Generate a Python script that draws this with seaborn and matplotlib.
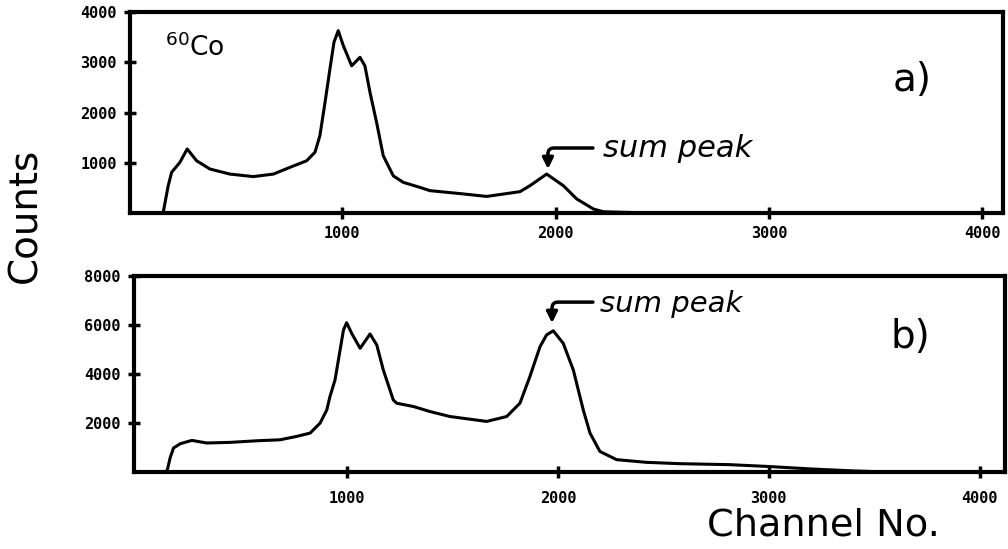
import matplotlib.pyplot as plt
import pandas as pd
import seaborn as sns

# spectra (channel number vs counts)
chan_a = [160, 184, 200, 239, 273, 317, 380, 473, 583, 677, 755, 833, 872, 895, 919,
          942, 961, 981, 1005, 1044, 1083, 1106, 1130, 1161, 1192, 1239, 1286, 1364, 1411, 1567,
          1677, 1833, 1880, 1958, 2036, 2099, 2177, 2224, 2400, 4050]
counts_a = [0, 545, 810, 1010, 1275, 1040, 875, 775, 725, 775, 910, 1040, 1210, 1540, 2200,
            2865, 3400, 3630, 3330, 2930, 3100, 2930, 2400, 1800, 1140, 740, 610, 510, 445, 380,
            330, 425, 545, 775, 545, 280, 80, 25, 5, 0]

chan_b = [0, 140, 148, 161, 177, 209, 264, 335, 445, 572, 682, 762, 825, 872, 904,
          919, 943, 967, 983, 998, 1022, 1062, 1109, 1141, 1172, 1219, 1235, 1314, 1393, 1488,
          1662, 1757, 1820, 1867, 1915, 1946, 1978, 2025, 2073, 2120, 2152, 2199, 2278, 2420, 2578,
          2815, 3000, 3200, 3400, 3550, 4050]
counts_b = [0, 0, 100, 580, 985, 1160, 1295, 1190, 1215, 1280, 1320, 1460, 1595, 2000, 2540,
            3085, 3765, 4985, 5800, 6100, 5665, 5055, 5640, 5190, 4170, 2950, 2815, 2680, 2475, 2270,
            2070, 2270, 2815, 3900, 5120, 5600, 5770, 5260, 4170, 2545, 1595, 845, 510, 400, 345,
            305, 230, 130, 50, 10, 0]

x_ticks = [1000, 2000, 3000, 4000]
y_ticks_a = [1000, 2000, 3000, 4000]
y_ticks_b = [2000, 4000, 6000, 8000]

df_a = pd.DataFrame({"channel": chan_a, "counts": counts_a})
df_b = pd.DataFrame({"channel": chan_b, "counts": counts_b})

sns.set_style("ticks")
plt.rcParams["font.family"] = ["DejaVu Sans"]
plt.rcParams["text.color"] = "black"
plt.rcParams["xtick.color"] = "black"
plt.rcParams["ytick.color"] = "black"

fig = plt.figure(figsize=(10.08, 5.49), dpi=100)
ax_a = fig.add_axes([0.129, 0.612, 0.866, 0.366])
ax_b = fig.add_axes([0.133, 0.140, 0.864, 0.357])

sns.lineplot(data=df_a, x="channel", y="counts", ax=ax_a, color="black", lw=2.2,
             estimator=None, sort=False)
sns.lineplot(data=df_b, x="channel", y="counts", ax=ax_b, color="black", lw=2.2,
             estimator=None, sort=False)

ax_a.set_xlim(5, 4097)
ax_a.set_ylim(0, 4000)
ax_b.set_xlim(-10, 4120)
ax_b.set_ylim(0, 8000)

tick_font = {"family": "DejaVu Sans Mono", "weight": "bold", "size": 11}
for ax, yt, xpad in [(ax_a, y_ticks_a, 5), (ax_b, y_ticks_b, 9)]:
    ax.set_xticks(x_ticks)
    ax.set_yticks(yt)
    ax.set_xticklabels([str(t) for t in x_ticks], fontdict=tick_font)
    ax.set_yticklabels([str(t) for t in yt], fontdict=tick_font)
    ax.tick_params(axis="both", direction="inout", length=9, width=2.5,
                   color="black", labelcolor="black")
    ax.tick_params(axis="x", pad=xpad)
    ax.tick_params(axis="y", pad=5)
    for side in ["top", "bottom", "left", "right"]:
        ax.spines[side].set_visible(True)
        ax.spines[side].set_linewidth(3)
        ax.spines[side].set_color("black")
    ax.set_xlabel("")
    ax.set_ylabel("")

# panel labels and isotope
ax_a.text(0.04, 0.78, r"$^{60}$Co", transform=ax_a.transAxes, fontsize=19, va="baseline")
ax_a.text(0.896, 0.66, "a)", transform=ax_a.transAxes, fontsize=28, ha="center", va="center")
ax_b.text(0.891, 0.69, "b)", transform=ax_b.transAxes, fontsize=28, ha="center", va="center")

# sum peak annotations
arrow = dict(arrowstyle="-|>", color="black", lw=2.5, mutation_scale=16,
             connectionstyle="angle,angleA=0,angleB=90,rad=6", shrinkA=0, shrinkB=0)
ax_a.annotate("", xy=(1964, 875), xytext=(2175, 1294), arrowprops=arrow)
ax_a.text(2222, 1275, "sum peak", fontsize=22, style="italic", va="center")
ax_b.annotate("", xy=(1972, 6085), xytext=(2166, 6940), arrowprops=arrow)
ax_b.text(2199, 6860, "sum peak", fontsize=21, style="italic", va="center")

fig.text(0.025, 0.608, "Counts", rotation=90, fontsize=28, ha="center", va="center")
fig.text(0.701, 0.0255, "Channel No.", fontsize=27.5, ha="left", va="baseline")

fig.savefig("out.png", dpi=100, facecolor="white")
plt.close(fig)
